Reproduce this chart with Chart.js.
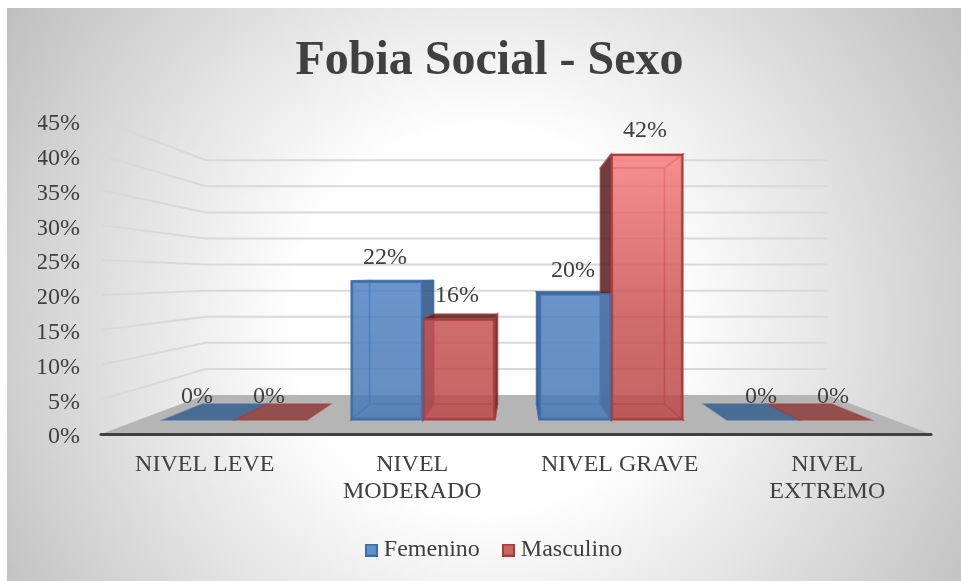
<!DOCTYPE html>
<html lang="es">
<head>
<meta charset="utf-8">
<title>Fobia Social - Sexo</title>
<script src="https://cdn.jsdelivr.net/npm/chart.js@4"></script>
<style>
  html, body { margin: 0; background: #fff; }
  canvas { display: block; }
</style>
</head>
<body>
<canvas id="chart" width="961" height="581"></canvas>
<script>
const CATEGORIES = [['NIVEL LEVE'], ['NIVEL', 'MODERADO'], ['NIVEL GRAVE'], ['NIVEL', 'EXTREMO']];
const FEMENINO = [0, 22, 20, 0];
const MASCULINO = [0, 16, 42, 0];
const SERIES_NAMES = ['Femenino', 'Masculino'];
const TICK_STEP = 5;
const TICK_MAX = 45;

const TEXT = '#404040';
const GRID = '#d9d9d9';
const FLOOR = '#b5b5b5';

// fake perspective: everything shrinks towards this point
const VP = { x: 517, y: 278 };
const WALL_DEPTH = 0.75;
const BAR_DEPTH = 0.888;
// tick labels sit a little below the wall lines they belong to
const LABEL_DROP = 3;

const STYLES = [
  { border: '#3f6da6', dark: 'rgba(40,80,130,0.85)', floor: 'rgba(45,90,140,0.8)', edge: 'rgba(63,109,166,0.6)', swatch: '#6590c5' },
  { border: '#a83c3c', dark: 'rgba(85,28,28,0.85)', floor: 'rgba(139,52,52,0.8)', edge: 'rgba(168,60,60,0.6)', swatch: '#c96666' }
];

function toward(p, k) {
  return { x: VP.x + (p.x - VP.x) * k, y: VP.y + (p.y - VP.y) * k };
}

function poly(ctx, pts, fill, stroke, width) {
  ctx.beginPath();
  pts.forEach((p, i) => (i ? ctx.lineTo(p.x, p.y) : ctx.moveTo(p.x, p.y)));
  ctx.closePath();
  if (fill) { ctx.fillStyle = fill; ctx.fill(); }
  if (stroke) { ctx.strokeStyle = stroke; ctx.lineWidth = width || 1.5; ctx.stroke(); }
}

function frontGradient(chart, datasetIndex) {
  const ctx = chart.ctx;
  const g = datasetIndex === 0
    ? ctx.createLinearGradient(0, 281, 0, 420)
    : ctx.createLinearGradient(0, 154, 0, 420);
  if (datasetIndex === 0) {
    g.addColorStop(0, 'rgba(80,130,195,0.85)');
    g.addColorStop(1, 'rgba(72,122,182,0.85)');
  } else {
    g.addColorStop(0, 'rgba(246,125,125,0.85)');
    g.addColorStop(0.62, 'rgba(199,82,82,0.85)');
    g.addColorStop(1, 'rgba(187,74,74,0.85)');
  }
  return g;
}

function swatch(style) {
  const c = document.createElement('canvas');
  c.width = 13;
  c.height = 13;
  const ctx = c.getContext('2d');
  ctx.fillStyle = style.swatch;
  ctx.fillRect(0, 0, 13, 13);
  ctx.strokeStyle = style.border;
  ctx.lineWidth = 2;
  ctx.strokeRect(1, 1, 11, 11);
  return c;
}

const backdrop = {
  id: 'backdrop',
  afterLayout(chart) {
    // title and legend are not centred on the canvas
    chart.titleBlock.left += 5;
    chart.titleBlock.right += 5;
    chart.legend.left += 12;
    chart.legend.right += 12;
  },
  beforeDraw(chart) {
    const { ctx } = chart;
    const g = ctx.createRadialGradient(484, 320, 190, 484, 320, 570);
    g.addColorStop(0, '#ffffff');
    g.addColorStop(1, '#bfbfbf');
    ctx.save();
    ctx.fillStyle = g;
    ctx.fillRect(7, 8, 954, 573);
    ctx.restore();
  }
};

const room = {
  id: 'room',
  beforeDatasetsDraw(chart) {
    const { ctx, chartArea } = chart;
    const yAxis = chart.scales.y;
    ctx.save();

    // walls
    ctx.strokeStyle = GRID;
    ctx.lineWidth = 2;
    yAxis.ticks.forEach(t => {
      if (t.value === 0) return;
      const y = yAxis.getPixelForValue(t.value) - LABEL_DROP;
      const back = toward({ x: chartArea.left + 1, y }, WALL_DEPTH);
      const right = toward({ x: chartArea.right, y }, WALL_DEPTH);
      ctx.beginPath();
      ctx.moveTo(chartArea.left + 1, y);
      ctx.lineTo(back.x, back.y);
      ctx.lineTo(right.x, right.y);
      ctx.stroke();
    });

    // floor
    const y0 = yAxis.getPixelForValue(0) - LABEL_DROP;
    const fl = { x: chartArea.left, y: y0 };
    const fr = { x: chartArea.right, y: y0 };
    poly(ctx, [fl, fr, toward(fr, WALL_DEPTH), toward(fl, WALL_DEPTH)], FLOOR);

    // axis line
    ctx.strokeStyle = TEXT;
    ctx.lineWidth = 3;
    ctx.lineCap = 'round';
    ctx.beginPath();
    ctx.moveTo(fl.x, y0 + 0.5);
    ctx.lineTo(fr.x, y0 + 0.5);
    ctx.stroke();
    ctx.lineCap = 'butt';

    // hidden parts of the boxes, the real bars go on top
    chart.data.datasets.forEach((ds, di) => {
      const style = STYLES[di];
      chart.getDatasetMeta(di).data.forEach(bar => {
        const x0 = bar.x - bar.width / 2;
        const x1 = bar.x + bar.width / 2;
        const tl = { x: x0, y: bar.y };
        const tr = { x: x1, y: bar.y };
        const bl = { x: x0, y: bar.base };
        const br = { x: x1, y: bar.base };
        const [btl, btr, bbl, bbr] = [tl, tr, bl, br].map(p => toward(p, BAR_DEPTH));

        // a zero bar is only its flat bottom
        const flat = bar.y === bar.base;
        poly(ctx, [bl, br, bbr, bbl], flat ? style.floor : null, style.edge);
        if (flat) return;

        poly(ctx, [btl, btr, bbr, bbl], null, style.edge);
        if (bar.x < VP.x) {
          poly(ctx, [tr, btr, bbr, br], style.dark, style.edge);
          poly(ctx, [tl, btl, bbl, bl], null, style.edge);
        } else {
          poly(ctx, [tl, btl, bbl, bl], style.dark, style.edge);
          poly(ctx, [tr, btr, bbr, br], null, style.edge);
        }
        poly(ctx, [tl, tr, btr, btl], btl.y < tl.y ? style.dark : null, style.edge);
      });
    });
    ctx.restore();
  },
  afterDatasetsDraw(chart) {
    const { ctx } = chart;
    ctx.save();
    ctx.fillStyle = TEXT;
    ctx.font = "24px 'Liberation Serif'";
    ctx.textAlign = 'center';
    ctx.textBaseline = 'middle';
    chart.data.datasets.forEach((ds, di) => {
      chart.getDatasetMeta(di).data.forEach((bar, i) => {
        ctx.fillText(ds.data[i].y + '%', bar.x - 2, bar.y - 23);
      });
    });
    ctx.restore();
  }
};

function makeDataset(name, values, di) {
  return {
    label: name,
    data: values.map((v, i) => ({ x: i, y: v })),
    xAxisID: 'xBar',
    yAxisID: 'yBar',
    backgroundColor: c => frontGradient(c.chart, di),
    borderColor: STYLES[di].border,
    borderWidth: 2,
    borderSkipped: false,
    barThickness: 72
  };
}

Chart.defaults.font.family = "'Liberation Serif', serif";
Chart.defaults.color = TEXT;

new Chart(document.getElementById('chart'), {
  type: 'bar',
  data: {
    labels: CATEGORIES,
    datasets: [
      makeDataset(SERIES_NAMES[0], FEMENINO, 0),
      makeDataset(SERIES_NAMES[1], MASCULINO, 1)
    ]
  },
  plugins: [backdrop, room],
  options: {
    responsive: false,
    animation: false,
    layout: { padding: { left: 38, right: 30, top: 0, bottom: 9 } },
    plugins: {
      tooltip: { enabled: false },
      title: {
        display: true,
        text: 'Fobia Social - Sexo',
        color: TEXT,
        font: { size: 48, weight: 'bold', lineHeight: 1.2 },
        padding: { top: 33, bottom: 33.4 }
      },
      legend: {
        position: 'bottom',
        labels: {
          color: TEXT,
          font: { size: 24 },
          padding: 28,
          usePointStyle: true,
          pointStyleWidth: 1,
          generateLabels: chart => chart.data.datasets.map((ds, i) => ({
            text: ds.label,
            datasetIndex: i,
            fontColor: TEXT,
            pointStyle: swatch(STYLES[i]),
            lineWidth: 0
          }))
        }
      }
    },
    scales: {
      x: {
        type: 'category',
        offset: true,
        grid: { display: false, drawTicks: false },
        border: { display: false },
        ticks: {
          color: TEXT,
          font: { size: 24, lineHeight: 1.125 },
          padding: 14,
          autoSkip: false,
          maxRotation: 0
        },
        afterFit: s => { s.height = 73; }
      },
      y: {
        type: 'linear',
        min: 0,
        max: TICK_MAX,
        grid: { display: false, drawTicks: false },
        border: { display: false },
        ticks: {
          stepSize: TICK_STEP,
          color: TEXT,
          font: { size: 24 },
          padding: 21,
          callback: v => v + '%'
        },
        afterFit: s => { s.width = 63; }
      },
      // the bars stand further back than the axes, so they get their own scales
      xBar: { type: 'linear', axis: 'x', display: false, offset: false, min: -0.7128, max: 3.702 },
      yBar: { type: 'linear', axis: 'y', display: false, min: -2.686, max: 46.761 }
    }
  }
});
</script>
</body>
</html>
